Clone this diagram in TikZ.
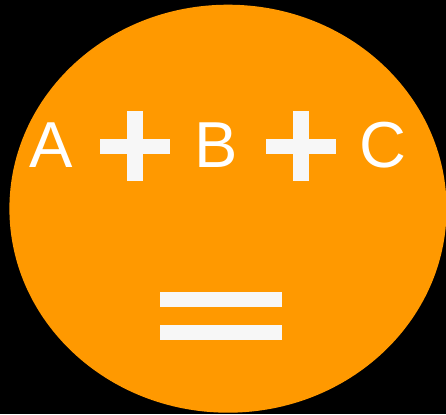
\documentclass[tikz,border=0pt]{standalone}
\usepackage{fontspec}
\setmainfont{Liberation Sans}
\definecolor{bgorange}{HTML}{FF9900}
\definecolor{barwhite}{HTML}{F7F7F7}
\begin{document}
\begin{tikzpicture}[x=1pt,y=-1pt,
  letter/.style={anchor=base west,inner sep=0pt,text=white,font=\fontsize{65}{65}\selectfont},
  bar/.style={fill=barwhite,draw=none}]
\useasboundingbox (0,0) rectangle (446,414);
\fill[black] (0,0) rectangle (446,414);
\fill[bgorange] (228,208.7) ellipse [x radius=218.6, y radius=204];
% letters
\node[letter] (a) at (29.5,167) {A};
\node[letter] (b) at (194,167) {B};
\node[letter] (c) at (359.5,167) {C};
% plus signs
\fill[bar] (100,139) rectangle (170,154);
\fill[bar] (127,111) rectangle (143,181);
\fill[bar] (266,139) rectangle (336,154);
\fill[bar] (293,111) rectangle (309,181);
% equals
\fill[bar] (160,292) rectangle (282,306.7);
\fill[bar] (160,325) rectangle (282,339.7);
\end{tikzpicture}
\end{document}
